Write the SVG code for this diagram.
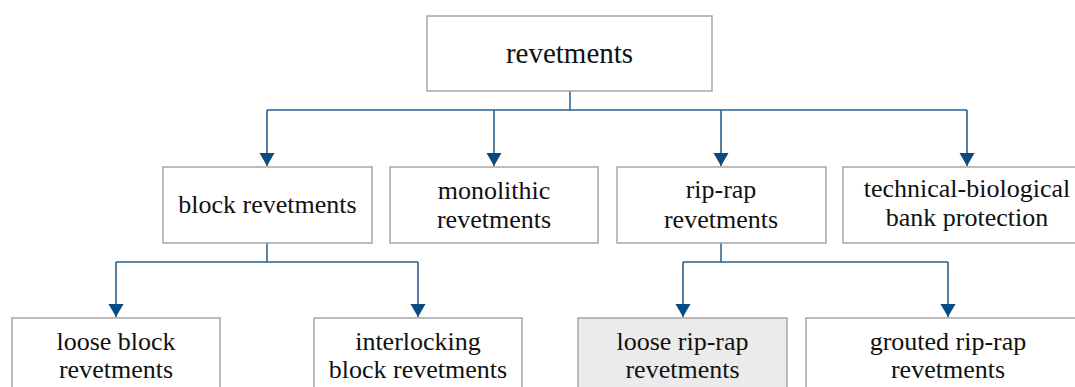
<svg xmlns="http://www.w3.org/2000/svg" width="1075" height="387" viewBox="0 0 1075 387">
  <defs>
    <marker id="arrow" markerUnits="userSpaceOnUse" markerWidth="16" markerHeight="14" viewBox="0 0 16 14" refX="8" refY="13" orient="0">
      <path d="M0.5,0 L15.5,0 L8,13 Z" fill="#0b4a80"/>
    </marker>
    <style>
      .box { fill: #ffffff; stroke: #a6a6a6; stroke-width: 1.5; }
      .box.hl { fill: #ebebeb; }
      text { font-family: 'Liberation Serif', 'Times New Roman', serif; font-size: 26px; fill: #111111; text-anchor: middle; }
      .top { font-size: 29px; }
      .wire { fill: none; stroke: #2a5f8f; stroke-width: 1.5; }
      .arr { fill: none; stroke: #1d5488; stroke-width: 1.5; marker-end: url(#arrow); }
    </style>
  </defs>

  <rect width="1075" height="387" fill="#ffffff"/>

  <!-- connectors -->
  <g id="connectors">
    <path class="wire" d="M570,91 V110 M267,110 H967"/>
    <path class="arr" d="M267,110 V166"/>
    <path class="arr" d="M494,110 V166"/>
    <path class="arr" d="M721,110 V166"/>
    <path class="arr" d="M967,110 V166"/>

    <path class="wire" d="M267,243 V262 M116,262 H418"/>
    <path class="arr" d="M116,262 V317"/>
    <path class="arr" d="M418,262 V317"/>

    <path class="wire" d="M721,243 V262 M683,262 H948"/>
    <path class="arr" d="M683,262 V317"/>
    <path class="arr" d="M948,262 V317"/>
  </g>

  <!-- root -->
  <g id="node-revetments">
    <rect class="box" x="427" y="16" width="285" height="75"/>
    <text class="top" x="569.5" y="63">revetments</text>
  </g>

  <!-- second level -->
  <g id="node-block">
    <rect class="box" x="163" y="167" width="209" height="76"/>
    <text x="267.5" y="213">block revetments</text>
  </g>
  <g id="node-monolithic">
    <rect class="box" x="390" y="167" width="208" height="76"/>
    <text x="494" y="199">monolithic</text>
    <text x="494" y="228">revetments</text>
  </g>
  <g id="node-riprap">
    <rect class="box" x="617" y="167" width="209" height="76"/>
    <text x="721" y="198">rip-rap</text>
    <text x="721" y="228">revetments</text>
  </g>
  <g id="node-technical">
    <rect class="box" x="843" y="167" width="250" height="76"/>
    <text x="967" y="197">technical-biological</text>
    <text x="967" y="226">bank protection</text>
  </g>

  <!-- third level -->
  <g id="node-loose-block">
    <rect class="box" x="12" y="318" width="208" height="80"/>
    <text x="116" y="350">loose block</text>
    <text x="116" y="378">revetments</text>
  </g>
  <g id="node-interlocking">
    <rect class="box" x="314" y="318" width="208" height="80"/>
    <text x="418" y="350">interlocking</text>
    <text x="418" y="378">block revetments</text>
  </g>
  <g id="node-loose-riprap">
    <rect class="box hl" x="578" y="318" width="209" height="80"/>
    <text x="682.5" y="350">loose rip-rap</text>
    <text x="682.5" y="378">revetments</text>
  </g>
  <g id="node-grouted">
    <rect class="box" x="806" y="318" width="290" height="80"/>
    <text x="948" y="350">grouted rip-rap</text>
    <text x="948" y="378">revetments</text>
  </g>
</svg>
